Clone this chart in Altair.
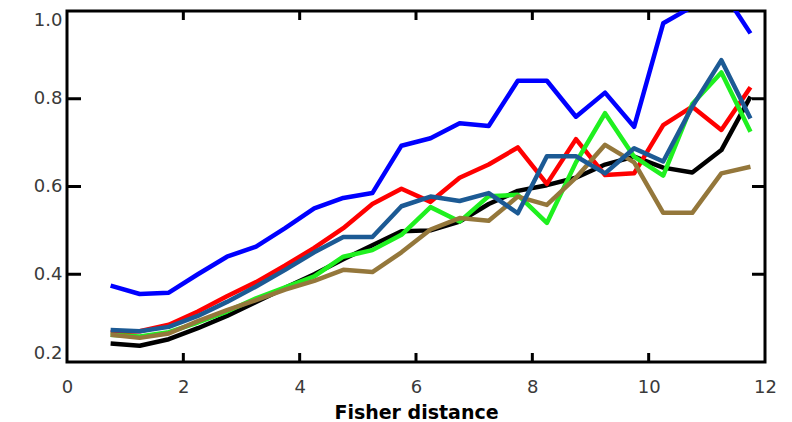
import altair as alt
import pandas as pd

x_vals = [0.75, 1.25, 1.75, 2.25, 2.75, 3.25, 3.75, 4.25, 4.75, 5.25, 5.75, 6.25,
          6.75, 7.25, 7.75, 8.25, 8.75, 9.25, 9.75, 10.25, 10.75, 11.25, 11.75]

blue = [0.374, 0.355, 0.358, 0.400, 0.440, 0.463, 0.505, 0.550, 0.574, 0.585, 0.693, 0.710,
        0.744, 0.738, 0.841, 0.841, 0.759, 0.814, 0.736, 0.972, 1.010, 1.050, 0.949]
red = [0.267, 0.270, 0.285, 0.315, 0.350, 0.382, 0.420, 0.460, 0.505, 0.560, 0.595, 0.565,
       0.620, 0.650, 0.689, 0.606, 0.708, 0.626, 0.630, 0.740, 0.782, 0.729, 0.826]
steel = [0.273, 0.270, 0.280, 0.305, 0.337, 0.372, 0.410, 0.450, 0.485, 0.485, 0.555, 0.577,
         0.567, 0.585, 0.539, 0.669, 0.669, 0.630, 0.687, 0.657, 0.782, 0.888, 0.755]
green = [0.262, 0.258, 0.268, 0.290, 0.315, 0.345, 0.370, 0.395, 0.440, 0.455, 0.490, 0.553,
         0.520, 0.578, 0.581, 0.517, 0.655, 0.767, 0.668, 0.625, 0.788, 0.860, 0.725]
black = [0.242, 0.237, 0.252, 0.277, 0.305, 0.337, 0.369, 0.400, 0.434, 0.466, 0.498, 0.500,
         0.520, 0.560, 0.590, 0.603, 0.620, 0.650, 0.668, 0.643, 0.632, 0.683, 0.805]
brown = [0.262, 0.255, 0.265, 0.293, 0.318, 0.341, 0.365, 0.385, 0.410, 0.405, 0.450, 0.502,
         0.528, 0.522, 0.577, 0.558, 0.620, 0.695, 0.655, 0.540, 0.540, 0.630, 0.645]

series_names = ["black", "red", "green", "brown", "steel", "blue"]
series_colors = ["#000000", "#ff0000", "#1ff01f", "#94773b", "#1c5a94", "#0000ff"]
series_values = [black, red, green, brown, steel, blue]

x_ticks = [0, 2, 4, 6, 8, 10, 12]
y_ticks = [0.2, 0.4, 0.6, 0.8, 1.0]
x_inner_ticks = [2, 4, 6, 8, 10]
y_inner_ticks = [0.4, 0.6, 0.8]

rows = []
for order, (name, vals) in enumerate(zip(series_names, series_values)):
    for xv, yv in zip(x_vals, vals):
        rows.append({"series": name, "order": order, "x": xv, "y": yv})
df = pd.DataFrame(rows)

W, H = 698, 351

xscale = alt.Scale(domain=[0, 12], nice=False, zero=False)
yscale = alt.Scale(domain=[0.2, 1.0], nice=False, zero=False)

lines = alt.Chart(df).mark_line(strokeWidth=4.5, clip=True, strokeJoin="round").encode(
    x=alt.X("x:Q", scale=xscale,
            axis=alt.Axis(values=x_ticks, format="d", title="Fisher distance",
                          tickSize=0, domain=False, grid=False, labelPadding=16,
                          labelFlush=False,
                          labelFont="DejaVu Sans", labelFontSize=18, labelColor="#3a3a3a",
                          titleFont="DejaVu Sans", titleFontSize=19, titleFontWeight="bold",
                          titleColor="#000000", titlePadding=7)),
    y=alt.Y("y:Q", scale=yscale,
            axis=alt.Axis(values=y_ticks, format=".1f", title=None,
                          tickSize=0, domain=False, grid=False, labelPadding=5,
                          labelFlush=True,
                          labelFont="DejaVu Sans", labelFontSize=18, labelColor="#3a3a3a")),
    color=alt.Color("series:N", scale=alt.Scale(domain=series_names, range=series_colors), legend=None),
    detail="series:N",
    order="order:Q",
)

ydf = pd.DataFrame({"y": y_inner_ticks})
xdf = pd.DataFrame({"x": x_inner_ticks})

left_ticks = alt.Chart(ydf).mark_rule(strokeWidth=3, color="black").encode(
    y=alt.Y("y:Q", scale=yscale), x=alt.value(0), x2=alt.value(14))
right_ticks = alt.Chart(ydf).mark_rule(strokeWidth=3, color="black").encode(
    y=alt.Y("y:Q", scale=yscale), x=alt.value(W - 13), x2=alt.value(W))
bottom_ticks = alt.Chart(xdf).mark_rule(strokeWidth=3, color="black").encode(
    x=alt.X("x:Q", scale=xscale), y=alt.value(H - 9), y2=alt.value(H))
top_ticks = alt.Chart(xdf).mark_rule(strokeWidth=3, color="black").encode(
    x=alt.X("x:Q", scale=xscale), y=alt.value(0), y2=alt.value(9))

chart = alt.layer(lines, left_ticks, right_ticks, bottom_ticks, top_ticks).properties(
    width=W, height=H,
    background="white",
    autosize=alt.AutoSizeParams(type="none"),
    padding={"left": 59, "top": 3, "right": 19, "bottom": 64},
).configure_view(stroke="black", strokeWidth=3)

chart.save("out.html", embed_options={"renderer": "svg", "actions": False})
